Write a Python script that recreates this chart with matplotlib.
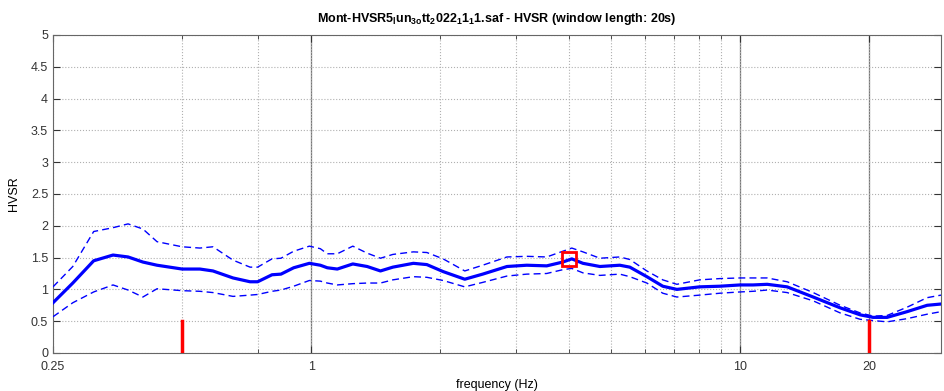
import numpy as np
import matplotlib
matplotlib.use('Agg')
import matplotlib.pyplot as plt
from matplotlib.ticker import FixedLocator, NullFormatter

plt.rcParams['font.family'] = ['Liberation Sans', 'DejaVu Sans']
plt.rcParams['mathtext.default'] = 'regular'

# HVSR curve values
freq = [0.25, 0.278, 0.311, 0.345, 0.374, 0.405, 0.437, 0.50, 0.55, 0.59,
        0.657, 0.72, 0.75, 0.81, 0.85, 0.91, 0.99, 1.05, 1.09, 1.15,
        1.25, 1.35, 1.45, 1.55, 1.73, 1.86, 2.03, 2.28, 2.51, 2.86,
        3.18, 3.54, 3.86, 4.05, 4.30, 4.71, 5.24, 5.53, 6.06, 6.60,
        7.12, 8.05, 8.97, 10.0, 10.72, 11.56, 12.87, 14.80, 17.11, 19.04,
        20.42, 22.01, 24.50, 27.29, 29.4]
hvsr_mean = [0.79, 1.10, 1.45, 1.54, 1.51, 1.43, 1.38, 1.32, 1.32, 1.29,
             1.18, 1.12, 1.12, 1.23, 1.24, 1.34, 1.41, 1.38, 1.34, 1.32,
             1.40, 1.36, 1.29, 1.35, 1.41, 1.39, 1.28, 1.16, 1.24, 1.36,
             1.38, 1.37, 1.43, 1.48, 1.41, 1.36, 1.38, 1.35, 1.20, 1.05,
             1.00, 1.04, 1.05, 1.07, 1.07, 1.08, 1.04, 0.88, 0.71, 0.60,
             0.56, 0.56, 0.65, 0.75, 0.77]
hvsr_upper = [1.04, 1.36, 1.91, 1.97, 2.03, 1.95, 1.75, 1.67, 1.65, 1.67,
              1.46, 1.35, 1.35, 1.48, 1.49, 1.60, 1.68, 1.64, 1.56, 1.56,
              1.68, 1.57, 1.49, 1.55, 1.59, 1.58, 1.48, 1.29, 1.38, 1.51,
              1.52, 1.51, 1.60, 1.65, 1.59, 1.49, 1.51, 1.47, 1.29, 1.15,
              1.08, 1.15, 1.17, 1.18, 1.18, 1.18, 1.12, 0.95, 0.75, 0.63,
              0.58, 0.59, 0.72, 0.87, 0.91]
hvsr_lower = [0.57, 0.79, 0.96, 1.07, 0.99, 0.88, 1.01, 0.98, 0.97, 0.95,
              0.89, 0.91, 0.92, 0.97, 0.99, 1.05, 1.14, 1.13, 1.10, 1.07,
              1.09, 1.10, 1.10, 1.15, 1.20, 1.19, 1.14, 1.04, 1.11, 1.21,
              1.24, 1.25, 1.31, 1.33, 1.26, 1.22, 1.24, 1.20, 1.10, 0.94,
              0.88, 0.91, 0.94, 0.96, 0.97, 0.99, 0.95, 0.82, 0.63, 0.53,
              0.51, 0.49, 0.54, 0.61, 0.65]

# peak and analysis window limits
f0, a0 = 4.0, 1.48
band_limits = [0.5, 20]
band_height = 0.5

fig = plt.figure(figsize=(9.45, 3.91), dpi=100)
ax = fig.add_axes([0.0561, 0.0972, 0.9397, 0.8133])

ax.set_xscale('log')
ax.set_xlim(0.25, 29.4)
ax.set_ylim(0, 5)

# grid like MATLAB
ax.xaxis.set_major_locator(FixedLocator([0.25, 1, 10, 20]))
ax.xaxis.set_minor_locator(FixedLocator([0.5, 0.75, 2, 3, 4, 5, 6, 7, 8, 9]))
ax.xaxis.set_minor_formatter(NullFormatter())
ax.set_xticklabels(['0.25', '1', '10', '20'])
ax.set_yticks(np.arange(0, 5.01, 0.5))
ax.set_yticklabels(['0', '0.5', '1', '1.5', '2', '2.5', '3', '3.5', '4', '4.5', '5'])
ax.grid(True, which='both', axis='x', ls=':', color='#b0b0b0', lw=0.8)
ax.grid(True, which='major', axis='y', ls=':', color='#b0b0b0', lw=0.8)
for xv in [1, 10, 20]:
    ax.axvline(xv, color='#777777', lw=0.9, zorder=1)

ax.plot(freq, hvsr_upper, '--', color='blue', lw=1.0, dashes=(5, 3), zorder=3)
ax.plot(freq, hvsr_lower, '--', color='blue', lw=1.0, dashes=(5, 3), zorder=3)
ax.plot(freq, hvsr_mean, '-', color='blue', lw=2.3, zorder=4)

ax.plot([f0], [a0], 's', ms=10, mfc='none', mec='red', mew=2, zorder=5)
for fb in band_limits:
    ax.plot([fb, fb], [0, band_height], '-', color='red', lw=2.5, zorder=5)

ax.tick_params(which='both', direction='in', top=True, right=True,
               labelsize=9, colors='#333333')
ax.tick_params(which='major', length=5)
ax.tick_params(which='minor', length=3)
ax.tick_params(axis='x', pad=6)
for sp in ax.spines.values():
    sp.set_color('#666666')
    sp.set_linewidth(0.8)

ax.set_xlabel('frequency (Hz)', fontsize=9, labelpad=4)
ax.set_ylabel('HVSR', fontsize=9, labelpad=8)
ax.set_title(r'Mont-HVSR5$_{l}$un$_{3o}$tt$_{2}$022$_{1}$1$_{1}$1.saf - HVSR (window length: 20s)',
             fontsize=9, fontweight='bold', pad=9)

plt.savefig('out.png', dpi=100)
